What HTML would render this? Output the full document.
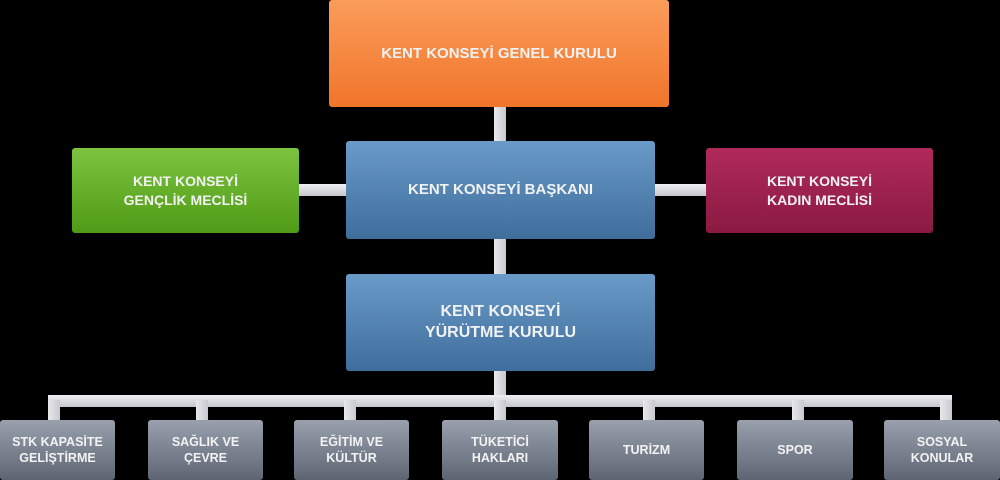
<!DOCTYPE html>
<html><head><meta charset="utf-8"><style>
body{margin:0;width:1000px;height:480px;background:#000;position:relative;overflow:hidden;font-family:"Liberation Sans",sans-serif}
.b{position:absolute;display:flex;align-items:center;justify-content:center;text-align:center;color:#f2f2f2;font-weight:bold;border-radius:3px;box-sizing:border-box;line-height:1.3}
.c{position:absolute;background:linear-gradient(90deg,#e8e8ec,#c8c9d0)}
.h{position:absolute;background:linear-gradient(180deg,#f0f0f3,#c4c6cc)}
.g{background:linear-gradient(180deg,#9aa1ad,#5d6573);font-size:12.5px}
</style></head><body>
<div class="c" style="left:494px;top:107px;width:12px;height:34px"></div>
<div class="c" style="left:494px;top:239px;width:12px;height:35px"></div>
<div class="c" style="left:494px;top:371px;width:12px;height:26px"></div>
<div class="h" style="left:299px;top:184px;width:47px;height:12px"></div>
<div class="h" style="left:655px;top:184px;width:51px;height:12px"></div>
<div class="h" style="left:48px;top:395px;width:904px;height:12px"></div>
<div class="c" style="left:48px;top:400px;width:12px;height:20px"></div>
<div class="c" style="left:196px;top:400px;width:12px;height:20px"></div>
<div class="c" style="left:344px;top:400px;width:12px;height:20px"></div>
<div class="c" style="left:494px;top:400px;width:12px;height:20px"></div>
<div class="c" style="left:643px;top:400px;width:12px;height:20px"></div>
<div class="c" style="left:792px;top:400px;width:12px;height:20px"></div>
<div class="c" style="left:940px;top:400px;width:12px;height:20px"></div>

<div class="b" style="left:329px;top:0;width:340px;height:107px;background:linear-gradient(180deg,#fb9c5a,#f0752a);font-size:15px">KENT KONSEYİ GENEL KURULU</div>
<div class="b" style="left:346px;top:141px;width:309px;height:98px;background:linear-gradient(180deg,#6a9ac7,#3f6e9c);font-size:15px">KENT KONSEYİ BAŞKANI</div>
<div class="b" style="left:72px;top:148px;width:227px;height:85px;background:linear-gradient(180deg,#7cc440,#4f9a16);font-size:14px">KENT KONSEYİ<br>GENÇLİK MECLİSİ</div>
<div class="b" style="left:706px;top:148px;width:227px;height:85px;background:linear-gradient(180deg,#b02a5a,#8a1a42);font-size:14px">KENT KONSEYİ<br>KADIN MECLİSİ</div>
<div class="b" style="left:346px;top:274px;width:309px;height:97px;background:linear-gradient(180deg,#6a9ac7,#3f6e9c);font-size:16px">KENT KONSEYİ<br>YÜRÜTME KURULU</div>

<div class="b g" style="left:0;top:420px;width:115px;height:60px">STK KAPASİTE<br>GELİŞTİRME</div>
<div class="b g" style="left:148px;top:420px;width:115px;height:60px">SAĞLIK VE<br>ÇEVRE</div>
<div class="b g" style="left:294px;top:420px;width:115px;height:60px">EĞİTİM VE<br>KÜLTÜR</div>
<div class="b g" style="left:442px;top:420px;width:116px;height:60px">TÜKETİCİ<br>HAKLARI</div>
<div class="b g" style="left:589px;top:420px;width:115px;height:60px">TURİZM</div>
<div class="b g" style="left:737px;top:420px;width:116px;height:60px">SPOR</div>
<div class="b g" style="left:884px;top:420px;width:116px;height:60px">SOSYAL<br>KONULAR</div>
</body></html>
